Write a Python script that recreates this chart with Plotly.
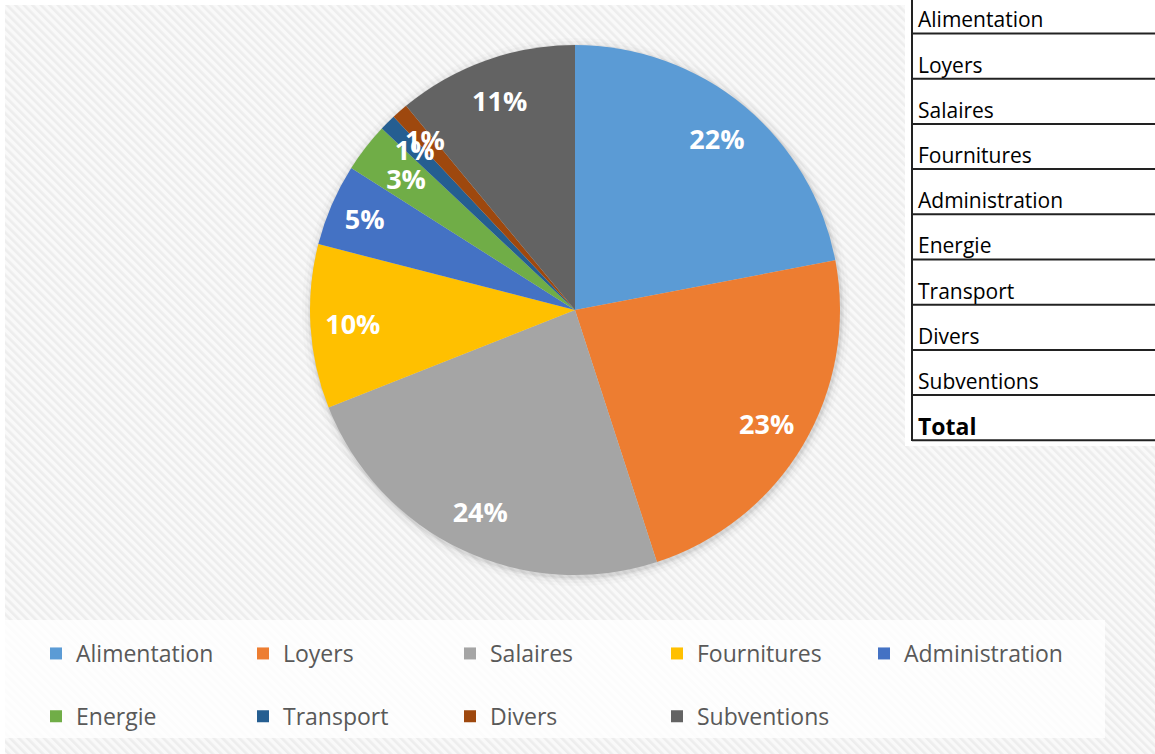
import base64
import plotly.graph_objects as go

# données
categories = ["Alimentation", "Loyers", "Salaires", "Fournitures", "Administration",
              "Energie", "Transport", "Divers", "Subventions"]
shares = [22, 23, 24, 10, 5, 3, 1, 1, 11]
colors = ["#5B9BD5", "#ED7D31", "#A5A5A5", "#FFC000", "#4472C4",
          "#70AD47", "#255E91", "#9E480E", "#636363"]
table_rows = categories + ["Total"]

W, H = 1155, 754
FONT = "Open Sans"


def px(x):
    return x / W


def py(y):
    return 1 - y / H


def domain(r):
    return dict(x=[px(cx - r), px(cx + r)], y=[py(cy + r), py(cy - r)])


cx, cy, R = 575, 310, 265
small = [s < 5 for s in shares]

fig = go.Figure()

# camembert (le "<br> " donne l'interligne de la légende)
fig.add_trace(go.Pie(
    labels=[c + "<br> " for c in categories],
    values=shares,
    sort=False,
    direction="clockwise",
    rotation=0,
    marker=dict(colors=colors, line=dict(width=0)),
    textinfo="none",
    hoverinfo="skip",
    domain=domain(R),
))

label_font = dict(family=FONT, size=27, color="white", weight="bold")

# anneau transparent : pourcentages des grandes parts
fig.add_trace(go.Pie(
    labels=categories,
    values=shares,
    sort=False,
    direction="clockwise",
    rotation=0,
    hole=0.68,
    marker=dict(colors=["rgba(0,0,0,0)"] * len(categories), line=dict(width=0)),
    texttemplate=["" if sm else "%{percent}" for sm in small],
    textposition="inside",
    insidetextorientation="horizontal",
    textfont=label_font,
    hoverinfo="skip",
    showlegend=False,
    domain=domain(R),
))

# camembert transparent plus petit : pourcentages des petites parts
fig.add_trace(go.Pie(
    labels=categories,
    values=shares,
    sort=False,
    direction="clockwise",
    rotation=0,
    marker=dict(colors=["rgba(0,0,0,0)"] * len(categories), line=dict(width=0)),
    texttemplate=["%{percent}" if sm else "" for sm in small],
    textposition="inside",
    insidetextorientation="horizontal",
    textfont=label_font,
    hoverinfo="skip",
    showlegend=False,
    domain=domain(234),
))

# fond hachuré
svg = (
    '<svg xmlns="http://www.w3.org/2000/svg" width="1150" height="749">'
    '<defs><pattern id="p" width="6" height="6" patternUnits="userSpaceOnUse" '
    'patternTransform="rotate(-45)">'
    '<rect width="6" height="6" fill="#f9f9f9"/>'
    '<rect width="2.6" height="6" fill="#ededed"/></pattern></defs>'
    '<rect width="100%" height="100%" fill="url(#p)"/></svg>'
)
src = "data:image/svg+xml;base64," + base64.b64encode(svg.encode()).decode()

shapes = []
# ombre du camembert
for d, a in [(9, 0.015), (6, 0.025), (3, 0.04), (1.5, 0.05)]:
    shapes.append(dict(type="circle", xref="paper", yref="paper", layer="below",
                       x0=px(cx - R - d + 1), x1=px(cx + R + d + 1),
                       y0=py(cy + R + d + 2), y1=py(cy - R - d + 2),
                       fillcolor=f"rgba(0,0,0,{a})", line=dict(width=0)))

# cadre de la légende
shapes.append(dict(type="rect", xref="paper", yref="paper", layer="below",
                   x0=px(5), x1=px(1105), y0=py(738), y1=py(620),
                   fillcolor="rgba(255,255,255,0.8)", line=dict(width=0)))

# tableau à droite
shapes.append(dict(type="rect", xref="paper", yref="paper",
                   x0=px(905), x1=1, y0=py(446), y1=1,
                   fillcolor="white", line=dict(width=0)))
shapes.append(dict(type="line", xref="paper", yref="paper",
                   x0=px(912), x1=px(912), y0=1, y1=py(441),
                   line=dict(color="#222222", width=2)))
row_h = 45.2
annotations = []
for i, name in enumerate(table_rows):
    y_line = 33.5 + row_h * i
    shapes.append(dict(type="line", xref="paper", yref="paper",
                       x0=px(912), x1=1, y0=py(y_line), y1=py(y_line),
                       line=dict(color="#222222", width=2)))
    annotations.append(dict(
        text=f"<b>{name}</b>" if name == "Total" else name,
        xref="paper", yref="paper", x=px(916), y=py(y_line - 14),
        xanchor="left", yanchor="middle", showarrow=False,
        font=dict(family=FONT, size=21 if name != "Total" else 23, color="black"),
    ))

fig.update_layout(
    width=W, height=H,
    margin=dict(l=0, r=0, t=0, b=0, autoexpand=False),
    paper_bgcolor="white",
    images=[dict(source=src, xref="paper", yref="paper", x=px(5), y=py(5),
                 sizex=px(1150), sizey=749 / H, xanchor="left", yanchor="top",
                 sizing="stretch", layer="below")],
    shapes=shapes,
    annotations=annotations,
    uniformtext=dict(minsize=27, mode="show"),
    showlegend=True,
    legend=dict(
        orientation="h", x=px(36), y=py(632), xanchor="left", yanchor="top",
        bgcolor="rgba(0,0,0,0)", entrywidth=162, valign="top",
        font=dict(family=FONT, size=23, color="#595959"),
    ),
)

fig.write_html("out.html", config={"displayModeBar": False},
               post_script="document.body.style.margin='0';")
